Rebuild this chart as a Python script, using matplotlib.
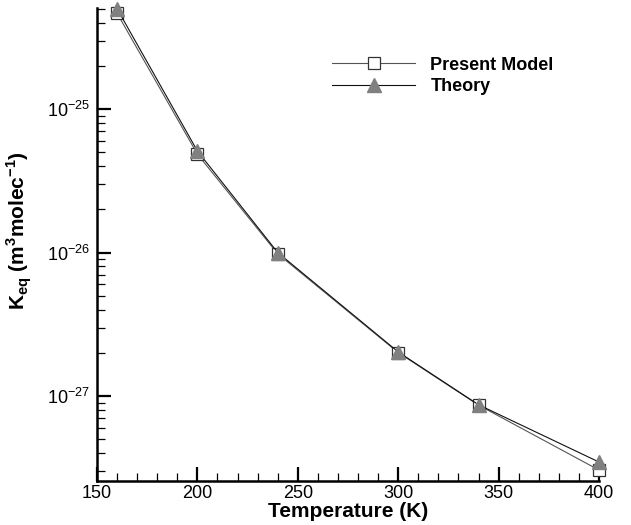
import matplotlib.pyplot as plt
import numpy as np
from matplotlib.ticker import LogLocator, MultipleLocator, NullFormatter

plt.rcParams['font.family'] = ['Liberation Sans', 'DejaVu Sans']

temps = [160, 200, 240, 300, 340, 400]
present_model = [4.65e-25, 4.85e-26, 9.8e-27, 2.01e-27, 8.65e-28, 3.05e-28]
theory = [5.0e-25, 5.1e-26, 1.0e-26, 2.03e-27, 8.7e-28, 3.47e-28]
y_major = [1e-27, 1e-26, 1e-25]

fig = plt.figure(figsize=(6.31, 5.25), dpi=100)
ax = fig.add_axes([0.1537, 0.0838, 0.7956, 0.901])

ax.plot(temps, present_model, color='#555555', lw=0.8, marker='s', ms=9,
        mfc='white', mec='#333333', mew=0.9, label='Present Model', clip_on=False, zorder=3)
ax.plot(temps, theory, color='#111111', lw=0.8, marker='^', ms=10,
        mfc='#808080', mec='#808080', label='Theory', clip_on=False, zorder=4)

ax.set_yscale('log')
ax.set_xlim(150, 400)
ax.set_ylim(2.56e-28, 5.06e-25)

ax.xaxis.set_major_locator(MultipleLocator(50))
ax.xaxis.set_minor_locator(MultipleLocator(10))
ax.set_yticks(y_major)
ax.yaxis.set_minor_locator(LogLocator(base=10, subs=np.arange(2, 10), numticks=20))
ax.yaxis.set_minor_formatter(NullFormatter())

ax.tick_params(which='major', direction='in', length=10, width=1.6, labelsize=13)
ax.tick_params(which='minor', direction='in', length=6, width=0.9)
ax.tick_params(axis='x', pad=3)
ax.tick_params(axis='y', pad=5)

for s in ['top', 'right']:
    ax.spines[s].set_visible(False)
for s in ['left', 'bottom']:
    ax.spines[s].set_linewidth(1.8)

ax.set_xlabel('Temperature (K)', fontsize=15, fontweight='bold', labelpad=0)
ax.set_ylabel(r'K$_{\mathregular{eq}}$ (m$^{\mathregular{3}}$molec$^{\mathregular{-1}}$)',
              fontsize=15, fontweight='bold')
ax.yaxis.set_label_coords(-0.125, 0.53)

leg = ax.legend(loc='center left', bbox_to_anchor=(332 / 631, 1 - 76 / 525),
                bbox_transform=fig.transFigure, frameon=False,
                borderaxespad=0, borderpad=0,
                handlelength=4.6, handletextpad=0.85, labelspacing=0.25,
                prop={'size': 13, 'weight': 'bold'})

fig.savefig('out.png', dpi=100)
